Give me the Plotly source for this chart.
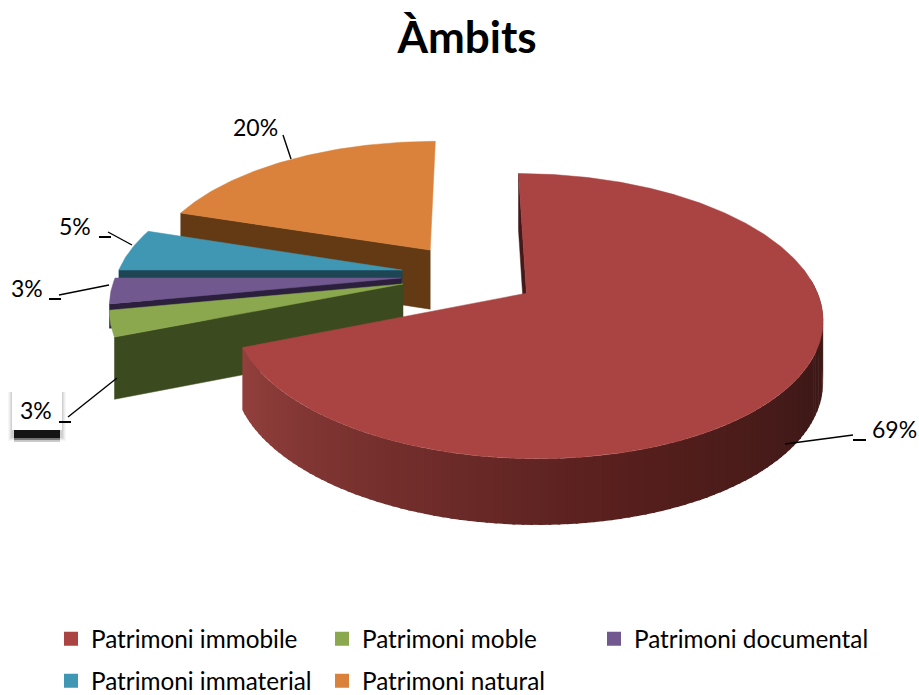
import math
import plotly.graph_objects as go

categories = ["Patrimoni immobile", "Patrimoni moble", "Patrimoni documental", "Patrimoni immaterial", "Patrimoni natural"]
values = [69, 3, 3, 5, 20]
top_colors = ["#A94442", "#8BA84F", "#71588F", "#4097B3", "#DA823C"]
wall_colors = ["#45191A", "#3B4A1F", "#2C1F3D", "#1D4554", "#643A14"]
wall_depth = [1.0, 1.0, 0.4, 0.5, 1.0]
legend_of = ["legend", "legend", "legend3", "legend2", "legend2"]
label_xy = [(894, 429), (36, 410), (27, 288), (75, 226), (255, 127)]
ticks = [[(853, 440), (866, 440)], [(59, 422), (71, 422)], [(49, 299), (61, 299)], [(99, 237), (111, 237)]]
leaders = [
    [(853, 435), (785, 444)],
    [(68, 417), (117, 378)],
    [(59, 295), (109, 285)],
    [(108, 232), (132, 245)],
    [(283, 135), (291, 159)],
]

# view model of the exploded 3D pie
X0, Y0 = 469, 275
R, PULL = 285, 68
KY, PERSP, H = 0.467, 0.165 / 299, 60


def project(X, Y, down=0.0):
    s = 1 / (1 - PERSP * Y)
    return X0 + X * s, Y0 + KY * Y * s + H * s ** 0.5 * down


def hex_mix(a, b, t):
    ca = [int(a[i:i + 2], 16) for i in (1, 3, 5)]
    cb = [int(b[i:i + 2], 16) for i in (1, 3, 5)]
    return "#" + "".join(f"{round(p + (q - p) * t):02x}" for p, q in zip(ca, cb))


total = sum(values)
slices = []
a = 0.0
for v in values:
    span = 360 * v / total
    slices.append((a, a + span))
    a += span


def apex(i):
    mid = math.radians(sum(slices[i]) / 2)
    return PULL * math.sin(mid), -PULL * math.cos(mid)


def rim(i, deg):
    ax, ay = apex(i)
    t = math.radians(deg)
    return ax + R * math.sin(t), ay - R * math.cos(t)


def poly(points, color, width=0.0):
    xs = [p[0] for p in points] + [points[0][0]]
    ys = [p[1] for p in points] + [points[0][1]]
    return go.Scatter(x=xs, y=ys, mode="lines", fill="toself", fillcolor=color,
                      line=dict(color=color, width=width), showlegend=False, hoverinfo="skip")


def radial_wall(i, deg, color):
    ax, ay = apex(i)
    rx, ry = rim(i, deg)
    d = wall_depth[i]
    return poly([project(ax, ay), project(rx, ry), project(rx, ry, d), project(ax, ay, d)], color, 0.5)


def top_face(i):
    ax, ay = apex(i)
    a0, a1 = slices[i]
    n = max(8, int((a1 - a0) * 1.5))
    pts = [project(ax, ay)]
    for j in range(n + 1):
        pts.append(project(*rim(i, a0 + (a1 - a0) * j / n)))
    return poly(pts, top_colors[i], 0.5)


fig = go.Figure()

# painter's order, back to front
for i in [4, 3, 2, 1, 0]:
    fig.add_trace(radial_wall(i, slices[i][0], wall_colors[i]))
    if i == 0:
        # curved front wall shaded left to right
        start, end = slices[0][1], 84.0
        n = 110
        for j in range(n):
            d0 = start + (end - start) * j / n
            d1 = max(start + (end - start) * (j + 1.3) / n, end)
            t = j / (n - 1)
            col = hex_mix("#93403D", "#571F1D", min(t / 0.5, 1)) if t < 0.5 else hex_mix("#571F1D", "#3E1917", min((t - 0.5) / 0.3, 1))
            p0, p1 = rim(0, d0), rim(0, d1)
            fig.add_trace(poly([project(*p0), project(*p1), project(*p1, 1), project(*p0, 1)], col))
    fig.add_trace(top_face(i))

# leader lines
for pts in leaders:
    fig.add_trace(go.Scatter(x=[p[0] for p in pts], y=[p[1] for p in pts], mode="lines",
                             line=dict(color="black", width=1.4), showlegend=False, hoverinfo="skip"))
for pts in ticks:
    fig.add_trace(go.Scatter(x=[p[0] for p in pts], y=[p[1] for p in pts], mode="lines",
                             line=dict(color="black", width=2), showlegend=False, hoverinfo="skip"))

# legend entries
for name, col, lg in zip(categories, top_colors, legend_of):
    fig.add_trace(go.Scatter(x=[None], y=[None], mode="markers", name=name,
                             marker=dict(symbol="square", size=14, color=col), legend=lg))

shapes = []
for grow, op in [(4, 0.03), (3, 0.04), (2, 0.05), (1, 0.07)]:
    shapes.append(dict(type="rect", x0=12 - grow, x1=62 + grow, y0=392, y1=437 + grow,
                       fillcolor="black", opacity=op, line_width=0, layer="below"))
for y1, op in [(442, 0.2), (440, 0.35), (438, 0.8)]:
    shapes.append(dict(type="rect", x0=14, x1=60, y0=428, y1=y1, fillcolor="black", opacity=op, line_width=0, layer="below"))
shapes.append(dict(type="rect", x0=12, x1=62, y0=390, y1=430, fillcolor="white", line_width=0, layer="below"))

annotations = [dict(x=xy[0], y=xy[1], text=f"{v}%", showarrow=False, xanchor="center", yanchor="middle",
                    font=dict(family="Lato", size=23, color="black"))
               for v, xy in zip(values, label_xy)]

legend_common = dict(orientation="h", xanchor="left", yanchor="middle",
                     entrywidthmode="pixels", bgcolor="rgba(0,0,0,0)",
                     font=dict(family="Lato", size=24.3, color="black"), itemclick=False, itemdoubleclick=False)

fig.update_layout(
    width=919, height=695, margin=dict(l=0, r=0, t=0, b=0, autoexpand=False),
    paper_bgcolor="white", plot_bgcolor="white",
    title=dict(text="<b>Àmbits</b>", x=467 / 919, xanchor="center", y=1 - 38 / 695, yanchor="middle",
               font=dict(family="Lato", size=44, color="black")),
    xaxis=dict(range=[0, 919], visible=False, fixedrange=True),
    yaxis=dict(range=[695, 0], visible=False, fixedrange=True),
    shapes=shapes, annotations=annotations,
    legend=dict(x=51 / 919, y=1 - 639 / 695, entrywidth=226, **legend_common),
    legend2=dict(x=51 / 919, y=1 - 681 / 695, entrywidth=226, **legend_common),
    legend3=dict(x=594 / 919, y=1 - 639 / 695, entrywidth=270, **legend_common),
)
fig.write_html("out.html", config={"displayModeBar": False}, post_script="document.body.style.margin='0';")
